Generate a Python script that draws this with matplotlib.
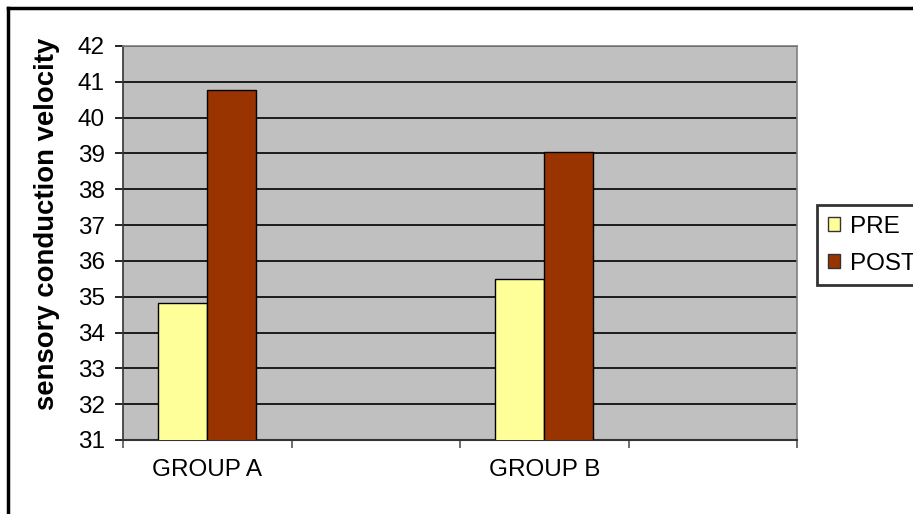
import matplotlib
matplotlib.use('Agg')
import matplotlib.pyplot as plt
import numpy as np
from matplotlib.patches import Rectangle
from matplotlib.lines import Line2D

plt.rcParams['font.family'] = ['Liberation Sans', 'DejaVu Sans']

# category slots on the x axis (two of them left empty)
categories = ['GROUP A', '', 'GROUP B', '']
pre_values = [34.82, np.nan, 35.5, np.nan]
post_values = [40.77, np.nan, 39.05, np.nan]
series_names = ['PRE', 'POST']
y_ticks = list(range(31, 43))

pre_color = '#FFFF99'
post_color = '#993300'

fig = plt.figure(figsize=(9.13, 5.14), dpi=100)
ax = fig.add_axes([123 / 913, 74 / 514, 674 / 913, 394 / 514])
ax.set_facecolor('#C0C0C0')

x = np.arange(len(categories))
w = 0.292
ax.bar(x - w / 2, pre_values, w, color=pre_color,
       edgecolor='black', linewidth=1.0, zorder=3)
ax.bar(x + w / 2, post_values, w, color=post_color,
       edgecolor='black', linewidth=1.0, zorder=3)

ax.set_ylim(31, 42)
ax.set_xlim(-0.5, len(categories) - 0.5)
ax.set_yticks(y_ticks)
ax.yaxis.grid(True, color='black', linewidth=1.2, zorder=1)
ax.set_axisbelow(True)

# category labels centred, tick marks on the slot boundaries
ax.set_xticks(x)
ax.set_xticklabels(categories)
ax.set_xticks(np.arange(-0.5, len(categories)), minor=True)
ax.tick_params(axis='x', which='major', length=0, pad=14, labelsize=17.5)
ax.tick_params(axis='x', which='minor', length=6, width=1.2,
               color='#555555', direction='out')
ax.tick_params(axis='y', length=6, width=1.2, pad=7, labelsize=17.5,
               direction='out')

for side in ['top', 'right']:
    ax.spines[side].set_color('#808080')
    ax.spines[side].set_linewidth(1.2)
ax.spines['left'].set_color('#333333')
ax.spines['bottom'].set_color('#333333')
ax.spines['left'].set_linewidth(1.2)
ax.spines['bottom'].set_linewidth(1.5)

ax.set_ylabel('sensory conduction velocity', fontsize=19.8,
              fontweight='bold')
ax.yaxis.set_label_coords(-0.093, 0.548)

handles = [Rectangle((0, 0), 1, 1, facecolor=pre_color, edgecolor='#333333'),
           Rectangle((0, 0), 1, 1, facecolor=post_color, edgecolor='#333333')]
leg = fig.legend(handles, series_names, loc='upper left',
                 bbox_to_anchor=(817 / 913, 1 - 205 / 514),
                 fontsize=17.5, frameon=True, fancybox=False,
                 handlelength=0.5, handleheight=0.5, handletextpad=0.4,
                 borderpad=0.45, labelspacing=0.6, borderaxespad=0)
leg.get_frame().set_edgecolor('black')
leg.get_frame().set_linewidth(2.0)

# outer chart border (left and top edges are the only ones in frame)
fig.add_artist(Line2D([8 / 913, 8 / 913], [0, 1 - 8 / 514],
                      color='black', linewidth=2.5))
fig.add_artist(Line2D([8 / 913, 1], [1 - 8 / 514, 1 - 8 / 514],
                      color='black', linewidth=2.5))

fig.savefig('out.png', dpi=100)
